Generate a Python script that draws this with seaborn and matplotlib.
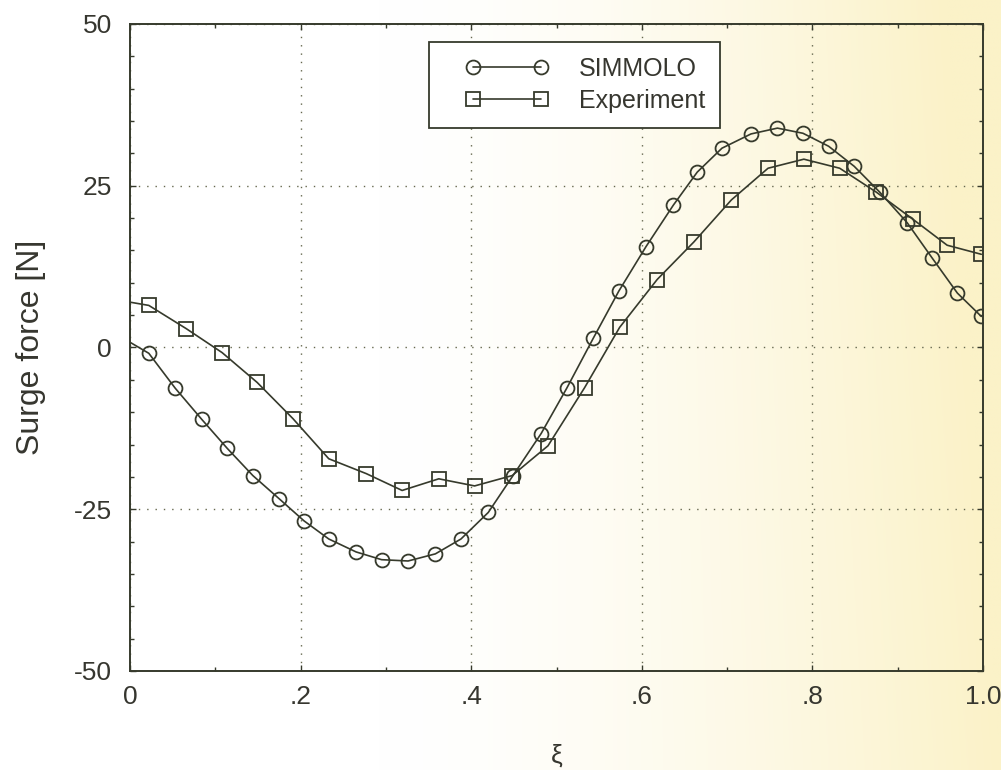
import numpy as np
import pandas as pd
import matplotlib
matplotlib.use("Agg")
import matplotlib.pyplot as plt
import seaborn as sns
from matplotlib.lines import Line2D
from matplotlib.legend_handler import HandlerLine2D
from matplotlib.ticker import MultipleLocator, FixedLocator, FixedFormatter
from matplotlib.colors import to_rgb

# --- data -------------------------------------------------------------
xi_sim = [0.000, 0.022, 0.053, 0.084, 0.114, 0.144, 0.175, 0.204, 0.233,
          0.265, 0.295, 0.326, 0.358, 0.388, 0.420, 0.449, 0.482, 0.512,
          0.543, 0.573, 0.605, 0.637, 0.665, 0.694, 0.728, 0.759, 0.789,
          0.819, 0.849, 0.879, 0.911, 0.940, 0.970, 0.998]
force_sim = [0.8, -0.9, -6.3, -11.1, -15.6, -19.8, -23.4, -26.8, -29.6,
             -31.6, -32.8, -33.0, -31.9, -29.6, -25.5, -19.8, -13.3, -6.3,
             1.4, 8.7, 15.6, 22.0, 27.1, 30.8, 33.0, 33.9, 33.1,
             31.1, 28.0, 24.0, 19.3, 13.9, 8.4, 4.8]

xi_exp = [0.000, 0.022, 0.066, 0.108, 0.149, 0.191, 0.233, 0.277, 0.319,
          0.362, 0.404, 0.448, 0.490, 0.533, 0.574, 0.618, 0.661, 0.705,
          0.748, 0.790, 0.832, 0.875, 0.918, 0.958, 0.998]
force_exp = [7.0, 6.5, 2.9, -0.8, -5.4, -11.0, -17.2, -19.5, -22.1,
             -20.3, -21.4, -19.8, -15.2, -6.2, 3.1, 10.5, 16.3, 22.8,
             27.7, 29.1, 27.7, 24.0, 19.8, 15.8, 14.4]

series_names = ["SIMMOLO", "Experiment"]
x_tick_values = [0.0, 0.2, 0.4, 0.6, 0.8, 1.0]
x_tick_labels = ["0", ".2", ".4", ".6", ".8", "1.0"]
y_tick_values = [-50, -25, 0, 25, 50]
y_tick_labels = ["-50", "-25", "0", "25", "50"]

sim_df = pd.DataFrame({"xi": xi_sim, "force": force_sim})
exp_df = pd.DataFrame({"xi": xi_exp, "force": force_exp})

# --- style ------------------------------------------------------------
sns.set_theme(style="ticks")
plt.rcParams["font.family"] = ["Liberation Sans", "DejaVu Sans"]
ink = "#363a2c"
text_ink = "#36362f"
plt.rcParams["text.color"] = text_ink
plt.rcParams["axes.labelcolor"] = text_ink

fig = plt.figure(figsize=(10.01, 7.70), dpi=100)

# paper tone: white on the left, warming to cream on the right
bg = fig.add_axes([0, 0, 1, 1], zorder=-10)
bg.set_axis_off()
w, h = 400, 300
gx = np.linspace(0, 1, w)
gy = np.linspace(0, 1, h)
GX, GY = np.meshgrid(gx, gy)
t = np.clip((GX - 0.38) / 0.62, 0, 1) ** 1.5
t = np.clip(t + 0.15 * np.clip((GX - 0.6) / 0.4, 0, 1) * (1 - GY), 0, 1)
c0 = np.array(to_rgb("#ffffff"))
c1 = np.array(to_rgb("#fbf2c8"))
img = c0[None, None, :] * (1 - t[..., None]) + c1[None, None, :] * t[..., None]
bg.imshow(img, aspect="auto", extent=[0, 1, 0, 1], origin="upper")
bg.set_xlim(0, 1)
bg.set_ylim(0, 1)

ax = fig.add_axes([0.1299, 0.1286, 0.8521, 0.8403])
ax.set_facecolor("none")

line_kw = dict(color=ink, lw=1.2, markersize=10, markerfacecolor="none",
               markeredgecolor=ink, markeredgewidth=1.3,
               markevery=slice(1, None), estimator=None, sort=False)
sns.lineplot(data=sim_df, x="xi", y="force", ax=ax, marker="o",
             label=series_names[0], **line_kw)
sns.lineplot(data=exp_df, x="xi", y="force", ax=ax, marker="s",
             label=series_names[1], **line_kw)

ax.set_xlim(0, 1.0)
ax.set_ylim(-50, 50)

ax.xaxis.set_major_locator(FixedLocator(x_tick_values))
ax.xaxis.set_major_formatter(FixedFormatter(x_tick_labels))
ax.xaxis.set_minor_locator(MultipleLocator(0.1))
ax.yaxis.set_major_locator(FixedLocator(y_tick_values))
ax.yaxis.set_major_formatter(FixedFormatter(y_tick_labels))
ax.yaxis.set_minor_locator(MultipleLocator(5))

ax.tick_params(axis="both", which="both", direction="in", top=True,
               right=True, color=ink, width=1.0)
ax.tick_params(axis="both", which="major", length=4, labelsize=19,
               labelcolor=text_ink)
ax.tick_params(axis="both", which="minor", length=3)
ax.tick_params(axis="x", which="major", pad=10)
ax.tick_params(axis="y", which="major", pad=13)

for s in ax.spines.values():
    s.set_color(ink)
    s.set_linewidth(1.4)

ax.grid(True, which="major", color="#66684f", lw=1.0, linestyle=(0, (1, 5)))
ax.set_axisbelow(True)

ax.set_xlabel("ξ", fontsize=19, labelpad=25)
ax.set_ylabel("Surge force [N]", fontsize=23, labelpad=20)


def _legend_props(legend_line, orig_line):
    legend_line.update_from(orig_line)
    legend_line.set_markevery(None)


handles, labels = ax.get_legend_handles_labels()
leg = ax.legend(handles, labels, loc="upper left",
                bbox_to_anchor=(0.3505, 0.972), borderaxespad=0,
                fontsize=18, numpoints=2, handlelength=4.2,
                handletextpad=1.2, borderpad=0.6, labelspacing=0.32,
                fancybox=False, framealpha=1, facecolor="white",
                edgecolor=ink,
                handler_map={Line2D: HandlerLine2D(numpoints=2, xpad=0.85,
                                                   update_func=_legend_props)})
leg.get_frame().set_linewidth(1.3)

fig.savefig("out.png", dpi=100)
